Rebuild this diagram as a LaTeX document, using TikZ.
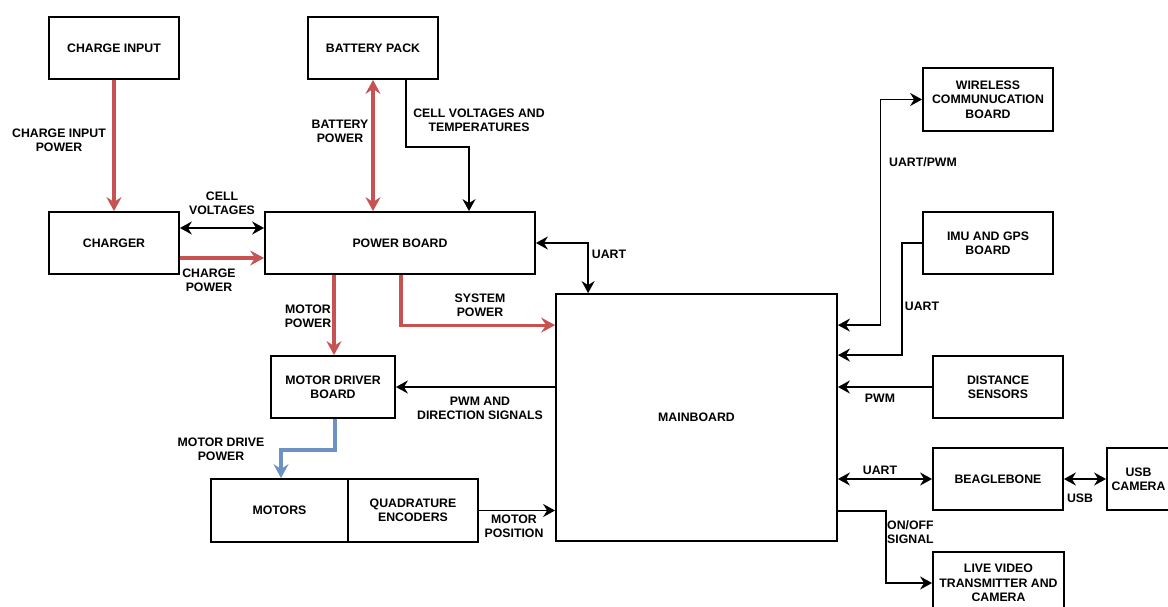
\documentclass[tikz,border=0pt]{standalone}
\usepackage{fontspec}
\setmainfont{Liberation Sans}
\usetikzlibrary{arrows.meta,calc}
\definecolor{pwrred}{RGB}{198,82,82}
\definecolor{drvblue}{RGB}{110,145,195}
\tikzset{
  box/.style={draw=black, line width=1.8pt, rectangle, inner sep=1pt, align=center, font=\lbl},
  lab/.style={align=center, inner sep=0pt, font=\lbl},
  blk/.style={draw=black, line width=1.8pt, -{Stealth[length=12pt,width=13pt,inset=4pt]}},
  blkbi/.style={draw=black, line width=1.8pt, {Stealth[length=12pt,width=13pt,inset=4pt]}-{Stealth[length=12pt,width=13pt,inset=4pt]}},
  redar/.style={draw=pwrred, line width=3.2pt, -{Stealth[length=14pt,width=15pt,inset=5pt]}},
  redbi/.style={draw=pwrred, line width=3.2pt, {Stealth[length=14pt,width=15pt,inset=5pt]}-{Stealth[length=14pt,width=15pt,inset=5pt]}},
  bluear/.style={draw=drvblue, line width=3.2pt, -{Stealth[length=14pt,width=15pt,inset=5pt]}},
}
\newcommand{\lbl}{\bfseries\fontsize{12.3}{14.3}\selectfont}
\begin{document}
\begin{tikzpicture}[x=1pt,y=-1pt]
\useasboundingbox (0,0) rectangle (1168,607);
\clip (0,0) rectangle (1168,607);
\fill[white] (0,0) rectangle (1168,607);
% boxes
\node[box, minimum width=130pt, minimum height=62pt] (chgin) at (114,48) {CHARGE INPUT};
\node[box, minimum width=130pt, minimum height=62pt] (batt) at (373,48) {BATTERY PACK};
\node[box, minimum width=130pt, minimum height=62pt] (charger) at (114,243) {CHARGER};
\node[box, minimum width=270pt, minimum height=62pt] (power) at (400,243) {POWER BOARD};
\node[box, minimum width=130pt, minimum height=63pt] (wireless) at (988,99.5) {WIRELESS\\COMMUNUCATION\\BOARD};
\node[box, minimum width=130pt, minimum height=62pt] (imu) at (988,243) {IMU AND GPS\\BOARD};
\node[box, minimum width=281pt, minimum height=247pt] (main) at (696.5,417.5) {MAINBOARD};
\node[box, minimum width=130pt, minimum height=62pt] (dist) at (998,387) {DISTANCE\\SENSORS};
\node[box, minimum width=130pt, minimum height=62pt] (beagle) at (998,479) {BEAGLEBONE};
\node[box, minimum width=63pt, minimum height=62pt, inner sep=0pt] (usbcam) at (1138.5,479) {USB\\CAMERA};
\node[box, minimum width=131pt, minimum height=62pt, inner sep=0pt] (live) at (998.5,583) {LIVE VIDEO\\TRANSMITTER AND\\CAMERA};
\node[box, minimum width=124pt, minimum height=62pt] (mdrv) at (333,387) {MOTOR DRIVER\\BOARD};
\node[box, minimum width=137pt, minimum height=63pt] (motors) at (279.5,510.5) {MOTORS};
\node[box, minimum width=130pt, minimum height=63pt] (quad) at (413,510.5) {QUADRATURE\\ENCODERS};
% power connectors
\draw[redar] (chgin) -- (charger);
\draw[redbi] (batt.south) -- (batt.south |- power.north);
\draw[redar] ([yshift=-15pt]charger.east) -- ([yshift=-15pt]charger.east -| power.west);
\draw[redar] ([xshift=-66pt]power.south) -- ([xshift=-66pt]power.south |- mdrv.north);
\draw[redar] ([xshift=1pt]power.south) |- ([yshift=-32pt]main.north west);
\draw[bluear] ([xshift=2pt]mdrv.south) -- ++(0,31) -| ([xshift=1.5pt]motors.north);
% signal connectors
\draw[blk] ([xshift=33pt]batt.south) -- ++(0,67) -| ([xshift=69pt]power.north);
\draw[blkbi] ([yshift=15pt]charger.east) -- ([yshift=15pt]charger.east -| power.west);
\draw[blkbi] (power.east) -| ([xshift=33pt]main.north west);
\draw[blk] (mdrv.east -| main.west) -- (mdrv.east);
\draw[blk] (quad.east) -- (quad.east -| main.west);
\draw[blkbi] (wireless.west) -| ([xshift=42.5pt,yshift=-32pt]main.north east) -- ([yshift=-32pt]main.north east);
\draw[blk] (imu.west) -| ([xshift=64pt,yshift=-62pt]main.north east) -- ([yshift=-62pt]main.north east);
\draw[blk] (dist.west) -- (dist.west -| main.east);
\draw[blkbi] (main.east |- beagle.west) -- (beagle.west);
\draw[blkbi] (beagle.east) -- (usbcam.west);
\draw[blk] ([yshift=31pt]main.south east) -- ++(48,0) |- (live.west);
% labels
\node[lab] (l1) at (59,140) {CHARGE INPUT\\POWER};
\node[lab] (l2) at (340,131) {BATTERY\\POWER};
\node[lab] (l3) at (479,120) {CELL VOLTAGES AND\\TEMPERATURES};
\node[lab] (l4) at (222,203) {CELL\\VOLTAGES};
\node[lab] (l5) at (209,280) {CHARGE\\POWER};
\node[lab] (l6) at (609,254) {UART};
\node[lab] (l7) at (923,162) {UART/PWM};
\node[lab] (l8) at (480,305) {SYSTEM\\POWER};
\node[lab] (l9) at (308,316) {MOTOR\\POWER};
\node[lab] (l10) at (480,408) {PWM AND\\DIRECTION SIGNALS};
\node[lab] (l11) at (221,449) {MOTOR DRIVE\\POWER};
\node[lab] (l12) at (514,526) {MOTOR\\POSITION};
\node[lab] (l13) at (922,306) {UART};
\node[lab] (l14) at (880,398) {PWM};
\node[lab] (l15) at (880,470) {UART};
\node[lab] (l16) at (1080,498) {USB};
\node[lab, align=left, anchor=west] (l17) at (887,532) {ON/OFF\\SIGNAL};
\end{tikzpicture}
\end{document}
